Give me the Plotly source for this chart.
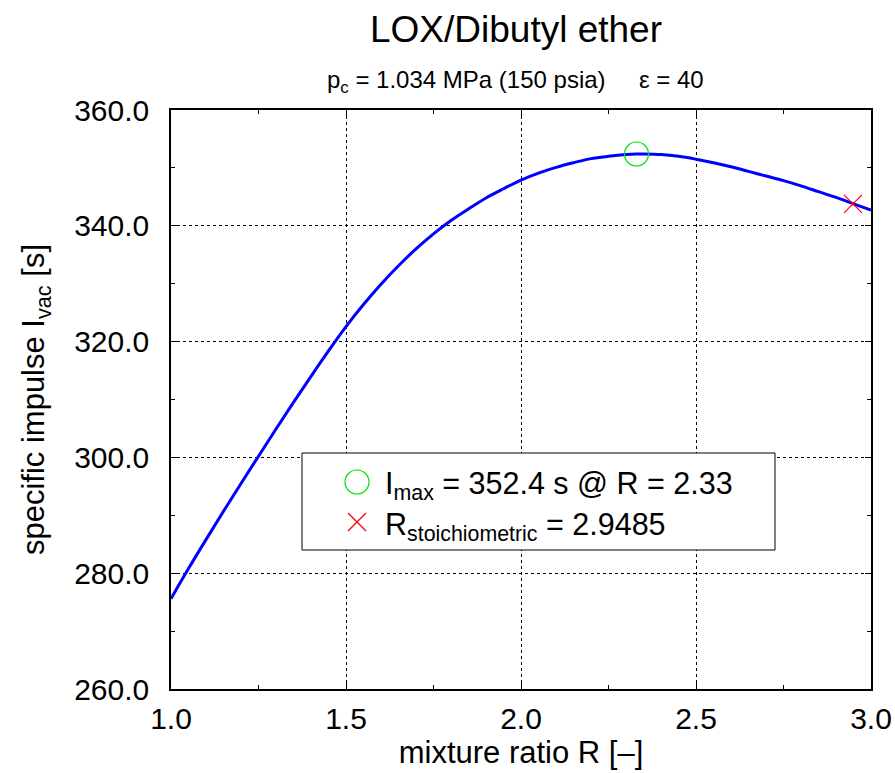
import plotly.graph_objects as go

# Data
mixture_ratio = [1.00, 1.05, 1.10, 1.15, 1.20, 1.25, 1.30, 1.35, 1.40, 1.45, 1.50,
                 1.55, 1.60, 1.65, 1.70, 1.75, 1.80, 1.85, 1.90, 1.95, 2.00,
                 2.05, 2.10, 2.15, 2.20, 2.25, 2.30, 2.33, 2.35, 2.40, 2.45, 2.50,
                 2.55, 2.60, 2.65, 2.70, 2.75, 2.80, 2.85, 2.90, 2.95, 3.00]
isp_vac = [275.6, 280.8, 285.8, 290.7, 295.5, 300.2, 304.9, 309.5, 314.0, 318.4, 322.6,
           326.4, 329.9, 333.1, 336.0, 338.6, 340.9, 342.9, 344.8, 346.4, 347.9,
           349.1, 350.1, 350.9, 351.6, 352.0, 352.3, 352.4, 352.4, 352.3, 352.0, 351.5,
           350.9, 350.2, 349.4, 348.6, 347.8, 346.9, 345.9, 344.9, 343.8, 342.7]
imax_R = [2.33]
imax_val = [352.4]
stoich_R = [2.9485]
stoich_val = [343.8]

x_ticks = [1.0, 1.5, 2.0, 2.5, 3.0]
y_ticks = [260.0, 280.0, 300.0, 320.0, 340.0, 360.0]

FONT = "Liberation Sans, Arial, Helvetica, sans-serif"

fig = go.Figure()
fig.add_trace(go.Scatter(x=mixture_ratio, y=isp_vac, mode="lines",
                         line=dict(color="#0000ff", width=3, shape="spline", smoothing=1.0),
                         showlegend=False, hoverinfo="skip"))
fig.add_trace(go.Scatter(x=imax_R, y=imax_val, mode="markers",
                         marker=dict(symbol="circle-open", size=24, color="#00e000",
                                     line=dict(width=1.2, color="#00e000")),
                         showlegend=False))
fig.add_trace(go.Scatter(x=stoich_R, y=stoich_val, mode="markers",
                         marker=dict(symbol="x-thin-open", size=18, color="#ff0000",
                                     line=dict(width=1.2, color="#ff0000")),
                         showlegend=False))

L, R, T, B = 171, 24, 110, 84
W, H = 895, 773
pw, ph = W - L - R, H - T - B

def px(xp):
    return (xp - L) / pw

def py(yp):
    return (H - B - yp) / ph

shapes = [
    dict(type="rect", xref="paper", yref="paper", x0=px(302), x1=px(775), y0=py(550), y1=py(453),
         line=dict(color="black", width=1), fillcolor="white", layer="above"),
    dict(type="circle", xref="paper", yref="paper", x0=px(345), x1=px(369), y0=py(494), y1=py(470),
         line=dict(color="#00e000", width=1.2), layer="above"),
    dict(type="line", xref="paper", yref="paper", x0=px(348), x1=px(366), y0=py(513), y1=py(531),
         line=dict(color="#ff0000", width=1.2), layer="above"),
    dict(type="line", xref="paper", yref="paper", x0=px(348), x1=px(366), y0=py(531), y1=py(513),
         line=dict(color="#ff0000", width=1.2), layer="above"),
]

annotations = [
    dict(text="p<sub>c</sub> = 1.034 MPa (150 psia)     ε = 40", xref="paper", yref="paper",
         x=px(515), y=py(82), xanchor="center", yanchor="middle", showarrow=False,
         font=dict(size=24, color="black", family=FONT)),
    dict(text="I<sub>max</sub> = 352.4 s @ R = 2.33", xref="paper", yref="paper",
         x=px(383), y=py(486), xanchor="left", yanchor="middle", showarrow=False,
         font=dict(size=30.5, color="black", family=FONT)),
    dict(text="R<sub>stoichiometric</sub> = 2.9485", xref="paper", yref="paper",
         x=px(383), y=py(526), xanchor="left", yanchor="middle", showarrow=False,
         font=dict(size=30.5, color="black", family=FONT)),
]

fig.update_layout(
    width=W, height=H,
    margin=dict(l=L, r=R, t=T, b=B, autoexpand=False),
    paper_bgcolor="white", plot_bgcolor="white",
    font=dict(family=FONT, color="black", size=30),
    title=dict(text="LOX/Dibutyl ether", x=516 / W, xanchor="center",
               y=1 - 29 / H, yanchor="middle", font=dict(size=37, family=FONT, color="black")),
    shapes=shapes,
    annotations=annotations,
    showlegend=False,
)

fig.update_xaxes(range=[1.0, 3.0], tickvals=x_ticks, ticktext=[f"{v:.1f}" for v in x_ticks],
                 showgrid=True, gridcolor="black", griddash="dot", gridwidth=1,
                 showline=True, linecolor="black", linewidth=1.5, mirror="allticks",
                 ticks="inside", ticklen=6, tickcolor="black",
                 minor=dict(dtick=0.25, ticks="inside", ticklen=4, tickcolor="black", showgrid=False),
                 zeroline=False, tickfont=dict(size=30), automargin=False, ticklabelstandoff=2,
                 title=dict(text="mixture ratio R [–]", font=dict(size=31), standoff=6))
fig.update_yaxes(range=[260.0, 360.0], tickvals=y_ticks, ticktext=[f"{v:.1f}" for v in y_ticks],
                 showgrid=True, gridcolor="black", griddash="dot", gridwidth=1,
                 showline=True, linecolor="black", linewidth=1.5, mirror="allticks",
                 ticks="inside", ticklen=6, tickcolor="black",
                 minor=dict(dtick=10, ticks="inside", ticklen=4, tickcolor="black", showgrid=False),
                 zeroline=False, tickfont=dict(size=30), ticklabelstandoff=14, automargin=False,
                 title=dict(text="specific impulse I<sub>vac</sub> [s]", font=dict(size=31), standoff=20))

fig.write_html("out.html")
